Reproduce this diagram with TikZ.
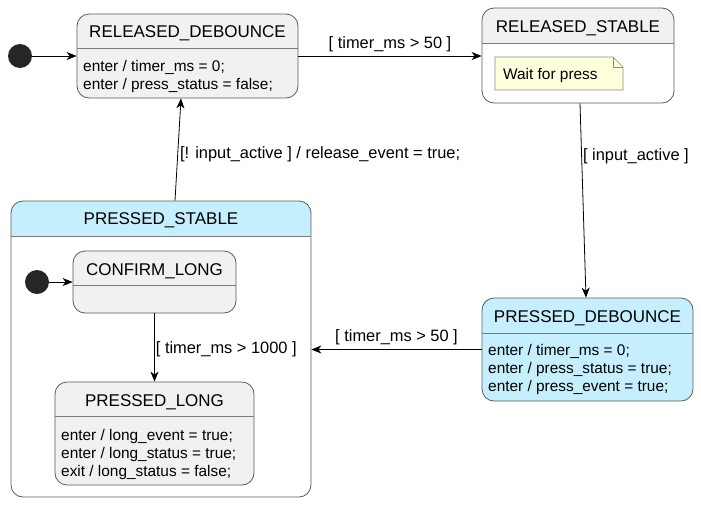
\documentclass[tikz,border=0pt]{standalone}
\usepackage{fontspec}
\setmainfont{Liberation Sans}
\usetikzlibrary{arrows.meta}
\definecolor{statefill}{HTML}{F1F1F1}
\definecolor{stateline}{HTML}{5A5A5A}
\definecolor{presfill}{HTML}{C6EFFD}
\definecolor{notefill}{HTML}{FEFFDD}
\begin{document}
\begin{tikzpicture}[x=1pt, y=-1pt,
  statebox/.style={draw=stateline, fill=statefill, rounded corners=12pt, inner sep=0pt, line width=0.8pt},
  titletext/.style={font=\fontsize{17}{20}\selectfont, inner sep=0pt},
  bodytext/.style={font=\fontsize{15.4}{18}\selectfont, align=left, anchor=west, inner sep=0pt},
  guard/.style={font=\fontsize{16.4}{18}\selectfont, inner sep=1pt},
  divider/.style={draw=stateline!80, line width=0.6pt},
  trans/.style={-{Stealth[length=10pt,width=8pt,inset=3pt]}, line width=0.8pt},
  startdot/.style={circle, fill=black!85, minimum size=24pt, inner sep=0pt}]
\useasboundingbox (0,0) rectangle (701,504);

\node[startdot] (init) at (20,56) {};
\node[statebox, minimum width=221pt, minimum height=84pt] (reldeb) at (187.5,56) {};
\node[titletext] (reldebtitle) at (187.5,33) {RELEASED\_DEBOUNCE};
\draw[divider] (77,48) -- (298,48);
\node[bodytext] (reldebbody) at (83,77) {enter / timer\_ms = 0;\\enter / press\_status = false;};

\node[statebox, minimum width=192pt, minimum height=95pt,
  path picture={\fill[white, sharp corners] ([yshift=-35pt]path picture bounding box.north west) rectangle (path picture bounding box.south east);}]
  (relstable) at (578,55.5) {};
\node[titletext] (relstabletitle) at (578,28) {RELEASED\_STABLE};
\draw[divider] (482,43) -- (674,43);
\draw[draw=stateline!70, fill=notefill, line width=0.6pt] (495,57) -- (613,57) -- (623,67) -- (623,90) -- (495,90) -- cycle;
\draw[draw=stateline!70, line width=0.6pt] (613,57) -- (613,67) -- (623,67);
\node[bodytext] (note) at (503,76) {Wait for press};

\node[statebox, fill=presfill, minimum width=211pt, minimum height=103pt] (presdeb) at (587.5,349.5) {};
\node[titletext] (presdebtitle) at (587.5,318) {PRESSED\_DEBOUNCE};
\draw[divider] (482,333) -- (693,333);
\node[bodytext] (presdebbody) at (488,369.5) {enter / timer\_ms = 0;\\enter / press\_status = true;\\enter / press\_event = true;};

\node[statebox, fill=white, minimum width=300pt, minimum height=296pt,
  path picture={\fill[presfill, sharp corners] (path picture bounding box.north west) rectangle ([yshift=-35pt]path picture bounding box.north east);}]
  (presstable) at (161,349) {};
\node[titletext] (presstabletitle) at (161,220.5) {PRESSED\_STABLE};
\draw[divider] (11,236) -- (311,236);

\node[startdot] (initsub) at (37,282) {};
\node[statebox, minimum width=163pt, minimum height=62pt] (confirm) at (154.5,282) {};
\node[titletext] (confirmtitle) at (154.5,271) {CONFIRM\_LONG};
\draw[divider] (73,285) -- (236,285);

\node[statebox, minimum width=199pt, minimum height=103pt] (preslong) at (154.5,433.5) {};
\node[titletext] (preslongtitle) at (154.5,402) {PRESSED\_LONG};
\draw[divider] (55,416) -- (254,416);
\node[bodytext] (preslongbody) at (61,454.5) {enter / long\_event = true;\\enter / long\_status = true;\\exit / long\_status = false;};

\draw[trans] (init) -- (reldeb);
\draw[trans] (reldeb.east) -- (reldeb.east -| relstable.west) node[guard, midway, above=3pt] {[ timer\_ms > 50 ]};
\draw[trans] ([xshift=2pt]relstable.south) -- ([xshift=-1.5pt]presdeb.north) node[guard, pos=0.27, right=0pt] {[ input\_active ]};
\draw[trans] (presdeb.west) -- (presdeb.west -| presstable.east) node[guard, midway, above=3pt] {[ timer\_ms > 50 ]};
\draw[trans] ([xshift=14pt]presstable.north) -- ([xshift=-6.5pt]reldeb.south) node[guard, pos=0.45, right=1pt] {[! input\_active ] / release\_event = true;};
\draw[trans] (initsub) -- (confirm);
\draw[trans] (confirm.south) -- (preslong.north) node[guard, pos=0.52, right=0pt] {[ timer\_ms > 1000 ]};
\end{tikzpicture}
\end{document}
